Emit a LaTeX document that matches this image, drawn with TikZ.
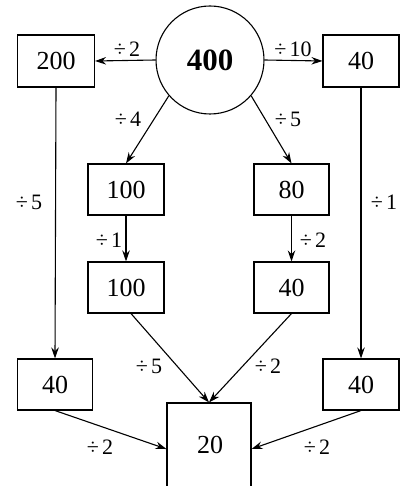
\documentclass[tikz,border=0pt]{standalone}
\usepackage{fontspec}
\setmainfont{Liberation Serif}
\usetikzlibrary{arrows.meta}
\begin{document}
\begin{tikzpicture}[x=1pt,y=-1pt,
  box/.style={draw,line width=1.1pt,minimum width=76pt,minimum height=51pt,inner sep=0pt,font=\fontsize{26}{26}\selectfont},
  lbl/.style={inner sep=0pt,font=\fontsize{22}{22}\selectfont},
  arr/.style={line width=1.1pt,-{Stealth[length=11pt,width=7.5pt]}}]
\useasboundingbox (0,0) rectangle (401,486);
\clip (0,0) rectangle (401,486);
\node[draw,circle,line width=1.1pt,minimum size=108pt,inner sep=0pt,font=\fontsize{31}{31}\selectfont\bfseries] (c) at (210,60) {400};
\node[box,minimum width=77pt,minimum height=52pt] (b200) at (56,61) {200};
\node[box,minimum height=52pt] (b40r) at (361,61) {40};
\node[box] (b100a) at (126,189.5) {100};
\node[box,minimum width=75pt] (b80) at (291.5,189.5) {80};
\node[box] (b100b) at (126,287.5) {100};
\node[box,minimum width=75pt] (b40m) at (291.5,287.5) {40};
\node[box,minimum width=75pt] (b40l) at (55,384.5) {40};
\node[box] (b40rb) at (361,384.5) {40};
\node[box,minimum width=84pt,minimum height=88pt] (b20) at (209,447) {};
\node[inner sep=0pt,font=\fontsize{26}{26}\selectfont] (t20) at (210,445) {20};
\draw[arr] (c.180) -- (b200.east);
\draw[arr] (c.0) -- (b40r.west);
\draw[arr] (c.221) -- (b100a.north);
\draw[arr] (c.-41) -- (b80.north);
\draw[arr] (b100a) -- (b100b);
\draw[arr] (b80) -- (b40m);
\draw[arr] (b200.south) -- (b40l.north);
\draw[arr] (b40r.south) -- (b40rb.north);
\draw[arr] ([xshift=5pt]b100b.south) -- (b20.north);
\draw[arr] (b40m.south) -- (b20.north);
\draw[arr] (b40l.south) -- ([yshift=-2pt]b20.west);
\draw[arr] (b40rb.south) -- ([yshift=-2pt]b20.east);
\node[lbl] (l1) at (127,49) {÷\hspace{3pt}2};
\node[lbl] (l2) at (293,49) {÷\hspace{3pt}10};
\node[lbl] (l3) at (128,119) {÷\hspace{3pt}4};
\node[lbl] (l4) at (288,119) {÷\hspace{3pt}5};
\node[lbl] (l5) at (29,202) {÷\hspace{3pt}5};
\node[lbl] (l6) at (384,202) {÷\hspace{3pt}1};
\node[lbl] (l7) at (109,240) {÷\hspace{3pt}1};
\node[lbl] (l8) at (313,240) {÷\hspace{3pt}2};
\node[lbl] (l9) at (149,366) {÷\hspace{3pt}5};
\node[lbl] (l10) at (268,366) {÷\hspace{3pt}2};
\node[lbl] (l11) at (100,447) {÷\hspace{3pt}2};
\node[lbl] (l12) at (317,447) {÷\hspace{3pt}2};
\end{tikzpicture}
\end{document}
